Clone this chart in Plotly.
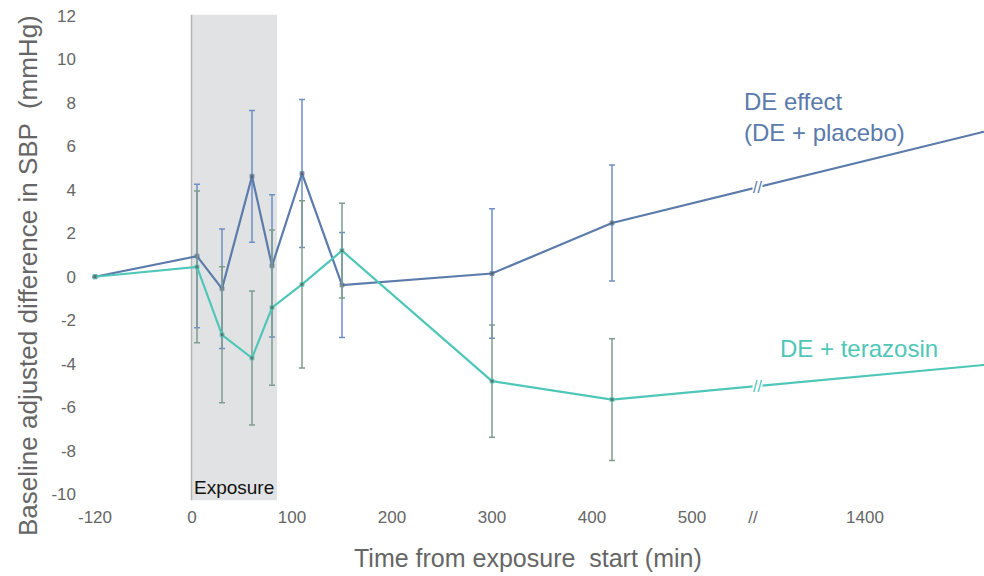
import numpy as np
import plotly.graph_objects as go

# ---------------- data ----------------
time_min = [-120, 5, 30, 60, 80, 110, 150, 300, 420, 1440]
de_placebo = [0, 0.95, -0.55, 4.62, 0.5, 4.75, -0.38, 0.15, 2.47, 6.67]
de_placebo_err = [None, 3.3, 2.75, 3.03, 3.27, 3.4, 2.42, 2.98, 2.67, None]
de_terazosin = [0, 0.45, -2.67, -3.74, -1.42, -0.35, 1.2, -4.8, -5.65, -4.06]
de_terazosin_err = [None, 3.49, 3.13, 3.08, 3.57, 3.85, 2.18, 2.58, 2.8, None]

x_tick_times = [-120, 0, 100, 200, 300, 400, 500, 1400]
x_tick_labels = ["-120", "0", "100", "200", "300", "400", "500", "1400"]
y_tick_vals = list(range(-10, 13, 2))
y_tick_labels = [str(v) for v in y_tick_vals]

exposure_window = [0, 85]

# ---------------- broken time axis ----------------
BREAK_POS = 563  # position of the "//" axis break on the display axis


def axis_pos(t):
    """Map real time (min) onto the broken display axis."""
    t = float(t)
    if t < 0:
        return t * 97.0 / 120.0
    if t <= 520:
        return t
    return 673 + (t - 1400) * (119.0 / 40.0)


xs = [axis_pos(t) for t in time_min]
tickvals = [axis_pos(t) for t in x_tick_times] + [BREAK_POS - 2]
ticktext = x_tick_labels + ["//"]

BLUE = "#5b7bab"
BLUE_ERR = "#6f90c6"
TEAL = "#4fc7b8"
TEAL_ERR = "#7f9d8f"
MARK = "#555555"
FONT = "Liberation Sans, Arial, sans-serif"

marker_sizes = [4] * (len(time_min) - 1) + [0]

W, H = 984, 576
ML, MR, MT, MB = 80, 0, 5, 71
pw, ph = W - ML - MR, H - MT - MB

fig = go.Figure()

fig.add_trace(go.Scatter(
    x=xs, y=de_placebo, mode="lines+markers",
    line=dict(color=BLUE, width=2.2),
    marker=dict(symbol="square", size=marker_sizes, color=MARK),
    error_y=dict(type="data", array=de_placebo_err, visible=True,
                 color=BLUE_ERR, thickness=1.5, width=3),
    showlegend=False, cliponaxis=False,
))
fig.add_trace(go.Scatter(
    x=xs, y=de_terazosin, mode="lines+markers",
    line=dict(color=TEAL, width=2.2),
    marker=dict(symbol="square", size=marker_sizes, color=MARK),
    error_y=dict(type="data", array=de_terazosin_err, visible=True,
                 color=TEAL_ERR, thickness=1.5, width=3),
    showlegend=False, cliponaxis=False,
))

# exposure shading
fig.add_shape(type="rect", xref="x", yref="y",
              x0=axis_pos(exposure_window[0]), x1=axis_pos(exposure_window[1]),
              y0=-10.28, y1=12.05, fillcolor="#e1e2e4", line=dict(width=0),
              layer="below")
fig.add_shape(type="line", xref="x", yref="y",
              x0=axis_pos(exposure_window[0]) - 0.5, x1=axis_pos(exposure_window[0]) - 0.5,
              y0=-10.28, y1=12.05, line=dict(color="#b5b6b8", width=1.5),
              layer="below")

# line-break markers on the series
for series, col in [(de_placebo, BLUE), (de_terazosin, TEAL)]:
    yb = float(np.interp(BREAK_POS + 2, xs[-2:], series[-2:]))
    fig.add_annotation(x=BREAK_POS + 2, y=yb, xref="x", yref="y", text="//",
                       showarrow=False, font=dict(size=16, color=col, family=FONT),
                       bgcolor="white", borderpad=0)

fig.add_annotation(x=axis_pos(42), y=-9.68, xref="x", yref="y", text="Exposure",
                   showarrow=False, font=dict(size=19, color="#111111", family=FONT))

fig.add_annotation(x=550, y=7.33, xref="x", yref="y",
                   text="DE effect<br>(DE + placebo)", showarrow=False,
                   xanchor="left", yanchor="middle", align="left",
                   font=dict(size=24, color=BLUE, family=FONT))
fig.add_annotation(x=586, y=-3.28, xref="x", yref="y",
                   text="DE + terazosin", showarrow=False,
                   xanchor="left", yanchor="middle", align="left",
                   font=dict(size=24, color=TEAL, family=FONT))

# axis titles (positioned in paper coordinates)
fig.add_annotation(x=(528 - ML) / pw, y=(H - 558 - MB) / ph, xref="paper", yref="paper",
                   text="Time from exposure  start (min)",
                   showarrow=False, xanchor="center", yanchor="middle",
                   font=dict(size=25, color="#666666", family=FONT))
fig.add_annotation(text="Baseline adjusted difference in SBP  (mmHg)",
                   textangle=-90, showarrow=False, xref="paper", yref="paper",
                   x=(28 - ML) / pw, y=(H - 276 - MB) / ph,
                   xanchor="center", yanchor="middle",
                   font=dict(size=26, color="#666666", family=FONT))

fig.update_layout(
    width=W, height=H,
    margin=dict(l=ML, r=MR, t=MT, b=MB, autoexpand=False),
    plot_bgcolor="white", paper_bgcolor="white",
    font=dict(family=FONT, color="#666666", size=17),
    xaxis=dict(range=[-112, 792], tickmode="array", tickvals=tickvals,
               ticktext=ticktext, showgrid=False, zeroline=False,
               showline=False, ticks="", fixedrange=True),
    yaxis=dict(range=[-10.5, 12.5], tickmode="array", tickvals=y_tick_vals,
               ticktext=y_tick_labels, showgrid=False, zeroline=False,
               showline=False, ticks="", fixedrange=True, ticklabelstandoff=3),
)

fig.write_html("out.html")
